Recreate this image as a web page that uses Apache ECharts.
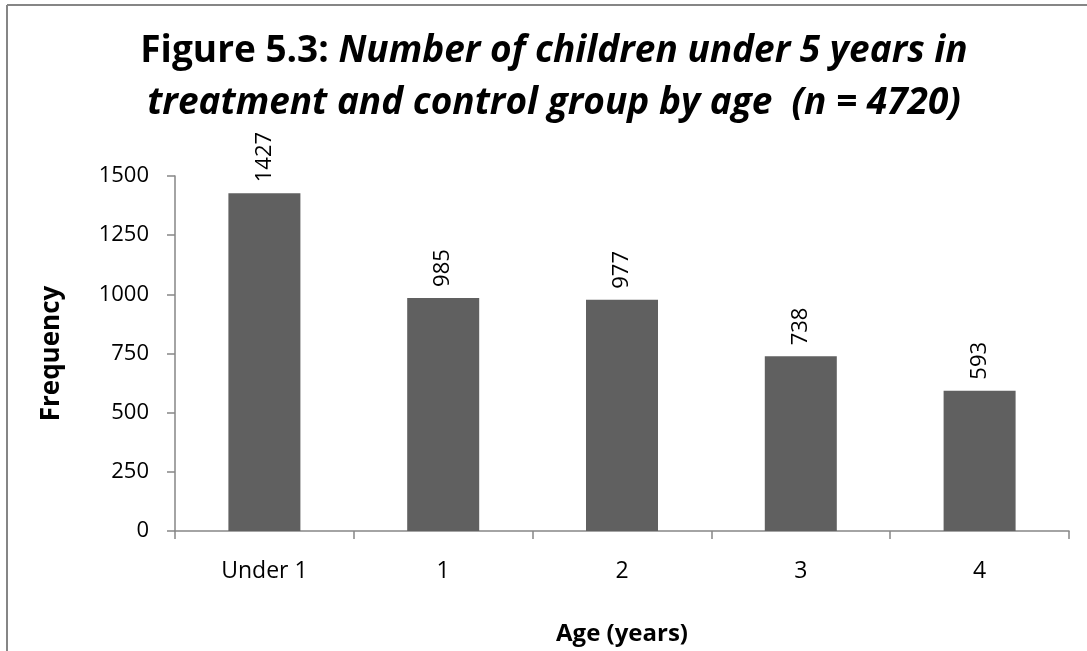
<!DOCTYPE html>
<html>
<head>
<meta charset="utf-8">
<script src="https://cdn.jsdelivr.net/npm/echarts@6/dist/echarts.min.js"></script>
<style>
  html, body { margin: 0; padding: 0; background: #fff; }
  #chart { width: 1087px; height: 651px; }
</style>
</head>
<body>
<div id="chart"></div>
<script>
// Age groups and child counts
const ageGroups = ['Under 1', '1', '2', '3', '4'];
const childCounts = [1427, 985, 977, 738, 593];
const yTicks = { min: 0, max: 1500, step: 250 };

const FONT = '"Open Sans", sans-serif';
const AXIS_GREY = '#868686';

const chart = echarts.init(document.getElementById('chart'));
chart.setOption({
  backgroundColor: '#ffffff',
  animation: false,
  textStyle: { fontFamily: FONT },
  title: {
    left: 549,
    textAlign: 'center',
    top: 20,
    text: '{b|Figure 5.3: }{i|Number of children under 5 years in}\n{i|treatment and control group by age  (n = 4720)}',
    textStyle: {
      rich: {
        b: { fontFamily: FONT, fontWeight: 'bold', fontSize: 37, color: '#000', lineHeight: 52 },
        i: { fontFamily: FONT, fontWeight: 'bold', fontStyle: 'italic', fontSize: 37, color: '#000', lineHeight: 52 }
      }
    }
  },
  graphic: [
    { type: 'line', shape: { x1: 7, y1: 5, x2: 1087, y2: 5 }, style: { stroke: AXIS_GREY, lineWidth: 2 } },
    { type: 'line', shape: { x1: 7, y1: 5, x2: 7, y2: 651 }, style: { stroke: AXIS_GREY, lineWidth: 2 } }
  ],
  grid: { left: 175, right: 18, top: 176, bottom: 119, containLabel: false },
  xAxis: {
    type: 'category',
    data: ageGroups,
    name: 'Age (years)',
    nameLocation: 'middle',
    nameGap: 91,
    nameTextStyle: { fontFamily: FONT, fontWeight: 'bold', fontSize: 24, color: '#000' },
    axisLine: { lineStyle: { color: AXIS_GREY, width: 1.5 } },
    axisTick: { show: true, length: 8, lineStyle: { color: AXIS_GREY, width: 1.5 } },
    axisLabel: { fontFamily: FONT, fontSize: 23, color: '#000', margin: 29 }
  },
  yAxis: {
    type: 'value',
    min: yTicks.min,
    max: yTicks.max,
    interval: yTicks.step,
    name: 'Frequency',
    nameLocation: 'middle',
    nameRotate: 90,
    nameGap: 110,
    nameTextStyle: { fontFamily: FONT, fontWeight: 'bold', fontSize: 26, color: '#000' },
    splitLine: { show: false },
    axisLine: { show: true, lineStyle: { color: AXIS_GREY, width: 1.5 } },
    axisTick: { show: true, length: 8, lineStyle: { color: AXIS_GREY, width: 1.5 } },
    axisLabel: { fontFamily: FONT, fontSize: 22, color: '#000', margin: 26, formatter: v => String(v) }
  },
  series: [{
    type: 'bar',
    data: childCounts,
    barWidth: 72,
    itemStyle: { color: '#606060' },
    label: {
      show: true,
      position: 'top',
      rotate: 90,
      align: 'left',
      verticalAlign: 'middle',
      distance: 11,
      fontFamily: FONT,
      fontSize: 22,
      color: '#000'
    }
  }]
});
</script>
</body>
</html>
